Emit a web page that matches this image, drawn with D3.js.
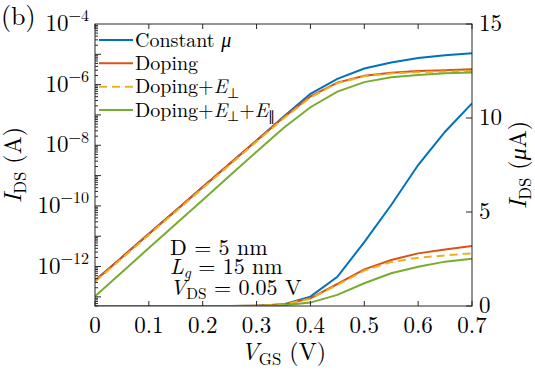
<!DOCTYPE html>
<html lang="en">
  <head>
    <meta charset="UTF-8" />
    <title>IDS vs VGS</title>
    <style>
      body { margin: 0; background: #fff; }
    </style>
  </head>
  <body>
    <svg id="chart" width="535" height="372"></svg>

    <script src="https://d3js.org/d3.v7.min.js"></script>
    <script>
      // gate voltage (V)
      const vgs = [0, 0.05, 0.1, 0.15, 0.2, 0.25, 0.3, 0.35, 0.4, 0.45, 0.5, 0.55, 0.6, 0.65, 0.7];

      // drain current (A)
      const constantMu = [3.47e-13, 2.04e-12, 1.2e-11, 7.08e-11, 4.17e-10, 2.45e-9, 1.45e-8, 8.7e-8, 5.0e-7, 1.55e-6, 3.4e-6, 5.37e-6, 7.5e-6, 9.27e-6, 1.078e-5];
      const doping = [3.47e-13, 2.04e-12, 1.2e-11, 7.08e-11, 4.17e-10, 2.45e-9, 1.45e-8, 8.3e-8, 4.1e-7, 1.17e-6, 1.95e-6, 2.45e-6, 2.8e-6, 3.01e-6, 3.19e-6];
      const dopingEperp = [3.16e-13, 1.86e-12, 1.1e-11, 6.46e-11, 3.8e-10, 2.24e-9, 1.32e-8, 7.6e-8, 3.8e-7, 1.12e-6, 1.88e-6, 2.34e-6, 2.57e-6, 2.69e-6, 2.8e-6];
      const dopingEperpEpar = [1.05e-13, 6.53e-13, 4.07e-12, 2.54e-11, 1.58e-10, 9.89e-10, 6.17e-9, 3.7e-8, 1.8e-7, 5.9e-7, 1.21e-6, 1.74e-6, 2.09e-6, 2.36e-6, 2.52e-6];

      const xTicks = [0, 0.1, 0.2, 0.3, 0.4, 0.5, 0.6, 0.7];
      const logLabelExps = [-4, -6, -8, -10, -12];
      const rightTicks = [0, 5, 10, 15];

      const series = [
        { name: "Constant mu", values: constantMu, color: "#0072BD", dash: null },
        { name: "Doping", values: doping, color: "#D95319", dash: null },
        { name: "Doping+Eperp", values: dopingEperp, color: "#EDB120", dash: "8,5" },
        { name: "Doping+Eperp+Epar", values: dopingEperpEpar, color: "#77AC30", dash: null }
      ];

      const legendText = [
        [{ t: "Constant " }, { t: "μ", it: true }],
        [{ t: "Doping" }],
        [{ t: "Doping+" }, { t: "E", it: true }, { t: "⊥", sub: true }],
        [{ t: "Doping+" }, { t: "E", it: true }, { t: "⊥", sub: true }, { t: "+" }, { t: "E", it: true }, { t: "∥", sub: true }]
      ];

      const FONT = '"Latin Modern Roman"';
      const L = 95, R = 472, T = 24, B = 306;
      const svg = d3.select("#chart");

      const x = d3.scaleLinear().domain([0, 0.7]).range([L, R]);
      const yLog = d3.scaleLog().domain([5e-14, 1e-4]).range([B, T]);
      const yLin = d3.scaleLinear().domain([0, 15]).range([B, T]);

      function txt(fs) {
        return svg.append("text").style("font-family", FONT).style("font-size", fs + "px").attr("fill", "#000");
      }

      // rich text with italic / sub / sup parts
      function rich(t, parts, fs, subShift = 0.22) {
        let shift = 0;
        parts.forEach(p => {
          const target = p.sub ? fs * subShift : p.sup ? -fs * 0.42 : 0;
          t.append("tspan")
            .attr("dy", target - shift)
            .style("font-family", FONT)
            .style("font-size", (p.sub || p.sup ? fs * 0.7 : fs) + "px")
            .style("font-style", p.it ? "italic" : "normal")
            .text(p.t);
          shift = target;
        });
        return t;
      }

      svg.append("clipPath").attr("id", "clip")
        .append("rect").attr("x", L).attr("y", T).attr("width", R - L).attr("height", B - T);

      const plot = svg.append("g").attr("clip-path", "url(#clip)");

      const lineLog = d3.line().x((d, i) => x(vgs[i])).y(d => yLog(d));
      const lineLin = d3.line().x((d, i) => x(vgs[i])).y(d => yLin(d * 1e6));

      series.forEach(s => {
        plot.append("path")
          .attr("d", lineLog(s.values))
          .attr("fill", "none")
          .attr("stroke", s.color)
          .attr("stroke-width", 2)
          .attr("stroke-dasharray", s.dash);
      });
      series.forEach(s => {
        plot.append("path")
          .attr("d", lineLin(s.values))
          .attr("fill", "none")
          .attr("stroke", s.color)
          .attr("stroke-width", 2)
          .attr("stroke-dasharray", s.dash);
      });

      // box
      svg.append("rect")
        .attr("x", L).attr("y", T).attr("width", R - L).attr("height", B - T)
        .attr("fill", "none").attr("stroke", "#262626").attr("stroke-width", 1);

      const tk = "#262626";
      // x ticks (bottom and top, inward)
      xTicks.forEach(v => {
        svg.append("line").attr("x1", x(v)).attr("x2", x(v)).attr("y1", B).attr("y2", B - 5).attr("stroke", tk);
        svg.append("line").attr("x1", x(v)).attr("x2", x(v)).attr("y1", T).attr("y2", T + 5).attr("stroke", tk);
        txt(23).attr("x", x(v)).attr("y", 333).attr("text-anchor", "middle")
          .text(v === 0 ? "0" : d3.format(".1f")(v));
      });

      // log ticks (left)
      for (let e = -14; e <= -5; e++) {
        for (let m = 1; m <= 9; m++) {
          const v = m * Math.pow(10, e);
          if (v < 5e-14 || v > 1e-4) continue;
          const len = m === 1 ? 6 : 3;
          svg.append("line").attr("x1", L).attr("x2", L + len).attr("y1", yLog(v)).attr("y2", yLog(v)).attr("stroke", tk);
        }
      }
      logLabelExps.forEach(e => {
        const t = txt(23).attr("x", 89).attr("y", yLog(Math.pow(10, e)) + 7).attr("text-anchor", "end");
        rich(t, [{ t: "10" }, { t: "−" + Math.abs(e), sup: true }], 23);
      });

      // linear ticks (right)
      rightTicks.forEach(v => {
        svg.append("line").attr("x1", R).attr("x2", R - 6).attr("y1", yLin(v)).attr("y2", yLin(v)).attr("stroke", tk);
        txt(23).attr("x", 479).attr("y", yLin(v) + 7).text(v);
      });

      // axis labels
      rich(txt(24).attr("text-anchor", "middle").attr("transform", `translate(21,${(T + B) / 2}) rotate(-90)`),
        [{ t: "I", it: true }, { t: "DS", sub: true }, { t: " (A)" }], 24);
      rich(txt(24).attr("text-anchor", "middle").attr("transform", `translate(526,${(T + B) / 2}) rotate(-90)`),
        [{ t: "I", it: true }, { t: "DS", sub: true }, { t: " (" }, { t: "μ", it: true }, { t: "A)" }], 24);
      rich(txt(24).attr("text-anchor", "middle").attr("x", (L + R) / 2).attr("y", 360),
        [{ t: "V", it: true }, { t: "GS", sub: true }, { t: " (V)" }], 24);

      txt(26).attr("x", 1).attr("y", 25).text("(b)");

      // legend
      const legY = [40, 63.3, 86.7, 110];
      series.forEach((s, i) => {
        svg.append("line").attr("x1", 99).attr("x2", 133).attr("y1", legY[i]).attr("y2", legY[i])
          .attr("stroke", s.color).attr("stroke-width", 2).attr("stroke-dasharray", s.dash);
        rich(txt(20).attr("x", 135).attr("y", legY[i] + 6.5), legendText[i], 20);
      });

      // annotation
      rich(txt(22).attr("x", 170).attr("y", 255), [{ t: "D = 5 nm" }], 22);
      rich(txt(22).attr("x", 170).attr("y", 274), [{ t: "L", it: true }, { t: "g", it: true, sub: true }, { t: " = 15 nm" }], 22, 0.16);
      rich(txt(22).attr("x", 170).attr("y", 295), [{ t: "V", it: true }, { t: "DS", sub: true }, { t: " = 0.05 V" }], 22, 0.16);
    </script>
  </body>
</html>
